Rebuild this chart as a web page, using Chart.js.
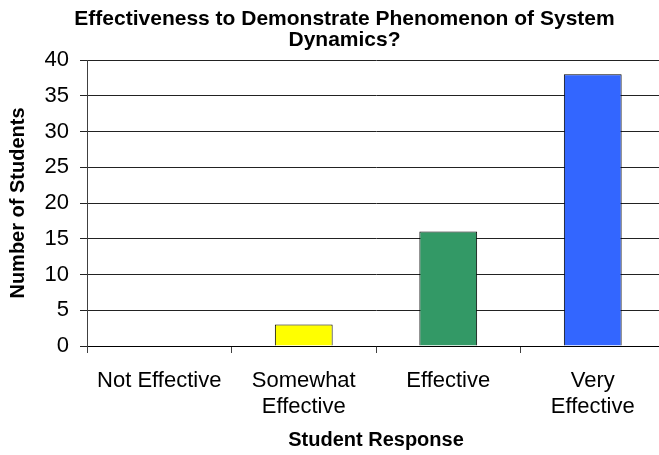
<!DOCTYPE html>
<html>
<head>
<meta charset="utf-8">
<script src="https://cdn.jsdelivr.net/npm/chart.js@4"></script>
<style>
  html, body { margin: 0; padding: 0; background: #fff; overflow: hidden; }
  #wrap { position: relative; width: 665px; height: 455px; }
</style>
</head>
<body>
<div id="wrap"><canvas id="chart"></canvas></div>
<script>
// Survey responses: how effective the demo was at showing system dynamics
const categories = [
  'Not Effective',
  ['Somewhat', 'Effective'],
  'Effective',
  ['Very', 'Effective']
];
const studentCounts = [0, 3, 16, 38];
const barColors = ['#FFFF00', '#FFFF00', '#339966', '#3366FF'];
const yTicks = [0, 5, 10, 15, 20, 25, 30, 35, 40];

const FONT = "'Liberation Sans', Arial, sans-serif";

// Nudge the title block to the right so it sits over the plot rather than the whole canvas
const titleShift = {
  id: 'titleShift',
  afterLayout(chart) {
    const t = chart.titleBlock;
    if (t) { t.left += 12; t.right += 12; }
  }
};

new Chart(document.getElementById('chart'), {
  type: 'bar',
  data: {
    labels: categories,
    datasets: [{
      data: studentCounts,
      backgroundColor: barColors,
      borderColor: '#000',
      borderWidth: 1,
      categoryPercentage: 1.0,
      barPercentage: 0.4
    }]
  },
  plugins: [titleShift],
  options: {
    responsive: true,
    maintainAspectRatio: false,
    animation: false,
    devicePixelRatio: 1,
    layout: { padding: 0 },
    plugins: {
      legend: { display: false },
      tooltip: { enabled: false },
      title: {
        display: true,
        text: ['Effectiveness to Demonstrate Phenomenon of System', 'Dynamics?'],
        color: '#000',
        font: { family: FONT, size: 21, weight: 'bold', lineHeight: '21px' },
        padding: { top: 9, bottom: 9 }
      }
    },
    scales: {
      x: {
        type: 'category',
        offset: true,
        grid: {
          offset: true,
          drawOnChartArea: false,
          drawTicks: true,
          tickLength: 7,
          color: '#404040'
        },
        border: { display: true, color: '#000', width: 1 },
        ticks: {
          color: '#000',
          font: { family: FONT, size: 22, lineHeight: 1.18 },
          padding: 15,
          maxRotation: 0,
          autoSkip: false
        },
        title: {
          display: true,
          text: 'Student Response',
          color: '#000',
          font: { family: FONT, size: 20, weight: 'bold', lineHeight: 1.2 },
          padding: { top: 0, bottom: 3 }
        },
        afterFit: (scale) => { scale.height = 109; }
      },
      y: {
        min: 0,
        max: 40,
        afterBuildTicks: (scale) => { scale.ticks = yTicks.map(v => ({ value: v })); },
        grid: {
          color: '#222',
          lineWidth: 1,
          drawTicks: true,
          tickLength: 7
        },
        border: { display: true, color: '#404040', width: 1 },
        ticks: {
          color: '#000',
          font: { family: FONT, size: 22 },
          padding: 11
        },
        title: {
          display: true,
          text: 'Number of Students',
          color: '#000',
          font: { family: FONT, size: 20, weight: 'bold', lineHeight: 1.2 },
          padding: { top: 6, bottom: 0 }
        },
        afterFit: (scale) => { scale.width = 87; }
      }
    }
  }
});
</script>
</body>
</html>
